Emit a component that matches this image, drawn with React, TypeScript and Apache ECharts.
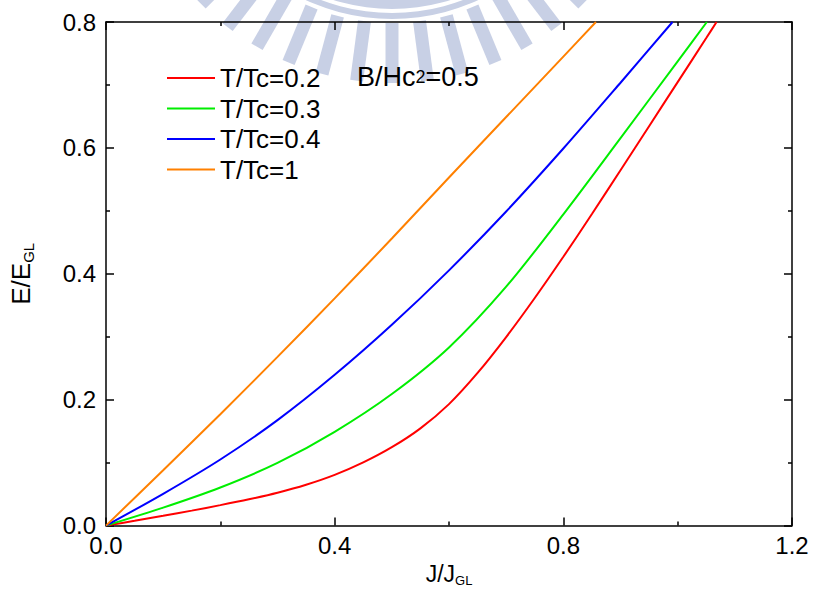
import React, { useEffect, useRef } from "react";
import * as echarts from "echarts";

const FONT = "Arial, 'Liberation Sans', Helvetica, sans-serif";

const seriesNames = ["T/Tc=0.2", "T/Tc=0.3", "T/Tc=0.4", "T/Tc=1"];
const seriesColors = ["#ff0000", "#00ee00", "#0000ff", "#ff8000"];

const red: [number, number][] = [
  [0, 0], [0.05, 0.0076], [0.1, 0.0155], [0.15, 0.0238], [0.2, 0.0325], [0.25, 0.0418],
  [0.3, 0.0522], [0.35, 0.0648], [0.4, 0.0805], [0.45, 0.1003], [0.5, 0.1245],
  [0.55, 0.1545], [0.6, 0.193], [0.65, 0.2425], [0.7, 0.2995], [0.75, 0.3615],
  [0.8, 0.427], [0.85, 0.495], [0.9, 0.5645], [0.95, 0.6345], [1.0, 0.7045],
  [1.05, 0.7745], [1.068, 0.8],
];
const green: [number, number][] = [
  [0, 0], [0.1, 0.0285], [0.2, 0.0605], [0.3, 0.0995], [0.4, 0.149], [0.5, 0.209],
  [0.6, 0.283], [0.7, 0.3795], [0.8, 0.4945], [0.9, 0.6155], [1.0, 0.7375], [1.051, 0.8],
];
const blue: [number, number][] = [
  [0, 0], [0.1, 0.0505], [0.2, 0.105], [0.3, 0.1675], [0.4, 0.2395], [0.5, 0.319],
  [0.6, 0.4055], [0.7, 0.499], [0.8, 0.599], [0.9, 0.7035], [0.991, 0.8],
];
const orange: [number, number][] = [
  [0, 0], [0.1, 0.088], [0.2, 0.177], [0.3, 0.268], [0.4, 0.361], [0.5, 0.456],
  [0.6, 0.553], [0.7, 0.649], [0.8, 0.745], [0.857, 0.8],
];

const xTicks = { min: 0, max: 1.2, interval: 0.4 };
const yTicks = { min: 0, max: 0.8, interval: 0.2 };
const annotation = { main: "B/Hc", sub: "2", tail: "=0.5" };

const WM = "#c8d0e5";

function watermark() {
  const children: any[] = [
    { type: "ring", shape: { cx: 0, cy: 0, r: 196, r0: 172 }, style: { fill: WM } },
    { type: "ring", shape: { cx: 0, cy: 0, r: 206, r0: 200 }, style: { fill: WM } },
  ];
  for (let a = -52.5; a <= 52.5; a += 7.5) {
    children.push({
      type: "rect",
      rotation: (a * Math.PI) / 180,
      shape: { x: -6.5, y: 210, width: 13, height: 60 },
      style: { fill: WM },
    });
  }
  return { type: "group", x: 392, y: -187, z: -10, silent: true, children };
}

export default function App() {
  const ref = useRef<HTMLDivElement>(null);
  useEffect(() => {
    document.body.style.margin = "0";
    const chart = echarts.init(ref.current!, undefined, { renderer: "svg" });
    const axisLine = { show: true, onZero: false, lineStyle: { color: "#000", width: 1.5 } };
    const tick = { show: true, inside: true, length: 8, lineStyle: { color: "#000", width: 1.5 } };
    const minor = { show: true, splitNumber: 2, length: 4, lineStyle: { color: "#000", width: 1.5 } };
    const datas = [red, green, blue, orange];
    chart.setOption({
      animation: false,
      backgroundColor: "#fff",
      textStyle: { fontFamily: FONT },
      grid: { left: 105, right: 21, top: 22, bottom: 63 },
      legend: {
        orient: "vertical",
        left: 167,
        top: 65,
        padding: 0,
        itemWidth: 48,
        itemHeight: 2,
        itemGap: 4.5,
        icon: "rect",
        data: seriesNames,
        textStyle: { fontSize: 26, color: "#000", fontFamily: FONT },
      },
      xAxis: [
        {
          type: "value",
          ...xTicks,
          position: "bottom",
          axisLine,
          axisTick: tick,
          minorTick: minor,
          splitLine: { show: false },
          axisLabel: { fontSize: 24, color: "#000", margin: 8, formatter: (v: number) => v.toFixed(1), fontFamily: FONT },
          name: "{a|J/J}{s|GL}",
          nameLocation: "middle",
          nameGap: 35,
          nameTextStyle: {
            color: "#000",
            rich: {
              a: { fontSize: 23, fontFamily: FONT, color: "#000" },
              s: { fontSize: 13, fontFamily: FONT, color: "#000", verticalAlign: "top", padding: [13, 0, 0, 0] },
            },
          },
        },
        {
          type: "value",
          ...xTicks,
          position: "top",
          axisLine,
          axisTick: tick,
          minorTick: minor,
          splitLine: { show: false },
          axisLabel: { show: false },
        },
      ],
      yAxis: [
        {
          type: "value",
          ...yTicks,
          position: "left",
          axisLine,
          axisTick: tick,
          minorTick: minor,
          splitLine: { show: false },
          axisLabel: { fontSize: 24, color: "#000", margin: 10, formatter: (v: number) => v.toFixed(1), fontFamily: FONT },
          name: "{a|E/E}{s|GL}",
          nameLocation: "middle",
          nameGap: 70,
          nameTextStyle: {
            color: "#000",
            rich: {
              a: { fontSize: 26, fontFamily: FONT, color: "#000" },
              s: { fontSize: 15, fontFamily: FONT, color: "#000", verticalAlign: "top", padding: [15, 0, 0, 0] },
            },
          },
        },
        {
          type: "value",
          ...yTicks,
          position: "right",
          axisLine,
          axisTick: tick,
          minorTick: minor,
          splitLine: { show: false },
          axisLabel: { show: false },
        },
      ],
      series: datas.map((d, i) => ({
        type: "line",
        name: seriesNames[i],
        data: d,
        showSymbol: false,
        smooth: 0.3,
        lineStyle: { color: seriesColors[i], width: 2 },
        itemStyle: { color: seriesColors[i] },
        z: 3,
      })),
      graphic: [
        watermark(),
        {
          type: "text",
          left: 357,
          top: 63,
          z: 5,
          style: {
            text: `{a|${annotation.main}}{b|${annotation.sub}}{a|${annotation.tail}}`,
            rich: {
              a: { fontSize: 27, fontFamily: FONT, fill: "#000" },
              b: { fontSize: 18, fontFamily: FONT, fill: "#000" },
            },
          },
        },
      ],
    });
    return () => chart.dispose();
  }, []);
  return <div ref={ref} style={{ width: 813, height: 592 }} />;
}
